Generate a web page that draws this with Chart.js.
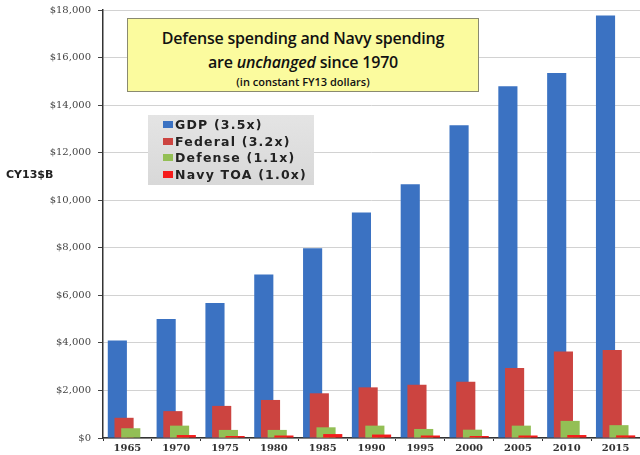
<!DOCTYPE html>
<html>
<head>
<meta charset="utf-8">
<script src="https://cdn.jsdelivr.net/npm/chart.js@4/dist/chart.umd.min.js"></script>
<style>
  html, body { margin: 0; padding: 0; background: #ffffff; }
  #wrap { position: relative; width: 640px; height: 455px; overflow: hidden; }
  #c { position: absolute; left: 0; top: 0; }
  #titleBox {
    position: absolute; left: 127px; top: 18px; width: 352px; height: 74px;
    background: #fbfb9e; border: 1px solid #8a8a70; box-sizing: border-box;
    font-family: "Open Sans", "Liberation Sans", sans-serif; text-align: center; color: #111;
  }
  #titleBox .l1 { position: absolute; left: 0; right: 0; top: 8px; font-size: 16px; font-weight: 600; letter-spacing: -0.2px; }
  #titleBox .l2 { position: absolute; left: 0; right: 0; top: 32px; font-size: 16px; font-weight: 600; letter-spacing: -0.2px; }
  #titleBox .l3 { position: absolute; left: 0; right: 0; top: 55px; font-size: 11px; font-weight: 600; }
  #legendBox {
    position: absolute; left: 148px; top: 115px; width: 166px; height: 70px;
    background: linear-gradient(#e4e4e4, #d8d8d8);
    font-family: "DejaVu Sans", Verdana, sans-serif; font-weight: bold; font-size: 12.5px; color: #222;
    letter-spacing: 1.2px;
  }
  #legendBox .row { position: absolute; left: 15px; height: 14px; line-height: 14px; white-space: nowrap; }
  #legendBox .sw { display: inline-block; width: 10px; height: 7px; margin-right: 2px; vertical-align: 1px; }
  #yTitle {
    position: absolute; left: 6px; top: 168px; font-family: "DejaVu Sans", Verdana, sans-serif;
    font-weight: bold; font-size: 11px; color: #222;
  }
</style>
</head>
<body>
<div id="wrap">
  <canvas id="c" width="640" height="455"></canvas>
  <div id="yTitle">CY13$B</div>
  <div id="titleBox">
    <div class="l1">Defense spending and Navy spending</div>
    <div class="l2">are <i>unchanged</i> since 1970</div>
    <div class="l3">(in constant FY13 dollars)</div>
  </div>
  <div id="legendBox"></div>
</div>
<script>
// ---- data ----
const years = ["1965","1970","1975","1980","1985","1990","1995","2000","2005","2010","2015"];
const gdp      = [4100, 5000, 5680, 6880, 7980, 9480, 10670, 13150, 14790, 15350, 17770];
const federal  = [850, 1130, 1350, 1600, 1880, 2130, 2240, 2370, 2940, 3640, 3700];
const defense  = [410, 520, 340, 340, 450, 520, 380, 350, 520, 720, 540];
const navyToa  = [null, 125, 85, 105, 165, 145, 105, 85, 105, 125, 110];
const seriesNames = ["GDP (3.5x)", "Federal (3.2x)", "Defense (1.1x)", "Navy TOA (1.0x)"];
const yTicks = [0, 2000, 4000, 6000, 8000, 10000, 12000, 14000, 16000, 18000];

const colors = ["#3b72c2", "#cc4440", "#93bf55", "#f51c1c"];

// HTML legend
const lg = document.getElementById('legendBox');
seriesNames.forEach((n, i) => {
  const r = document.createElement('div');
  r.className = 'row';
  r.style.top = (3 + i * 16.5) + 'px';
  r.innerHTML = '<span class="sw" style="background:' + colors[i] + '"></span>' + n;
  lg.appendChild(r);
});

// Draw datasets in index order so later series sit on top
const drawOrder = {
  id: 'drawOrder',
  beforeDatasetsDraw(chart) {
    const a = chart.chartArea, ctx = chart.ctx;
    ctx.save();
    ctx.beginPath();
    ctx.rect(a.left, a.top, a.right - a.left, a.bottom - a.top);
    ctx.clip();
    for (let i = 0; i < chart.data.datasets.length; i++) {
      const meta = chart.getDatasetMeta(i);
      if (chart.isDatasetVisible(i)) meta.controller.draw();
    }
    ctx.restore();
    return false;
  }
};

const mk = (label, data, color) => ({
  label, data, backgroundColor: color, borderWidth: 0,
  categoryPercentage: 0.55, barPercentage: 2.85
});

new Chart(document.getElementById('c'), {
  type: 'bar',
  data: {
    labels: years,
    datasets: [
      mk(seriesNames[0], gdp, colors[0]),
      mk(seriesNames[1], federal, colors[1]),
      mk(seriesNames[2], defense, colors[2]),
      mk(seriesNames[3], navyToa, colors[3])
    ]
  },
  options: {
    responsive: false,
    animation: false,
    layout: { padding: { left: 0, right: 0, top: 10, bottom: 0 } },
    plugins: { legend: { display: false }, tooltip: { enabled: false } },
    scales: {
      x: {
        grid: { drawOnChartArea: false, drawTicks: true, tickLength: 3, tickColor: '#333', offset: true },
        border: { color: '#333', width: 1.5 },
        ticks: {
          padding: 1, color: '#333',
          font: { family: "'DejaVu Serif', 'Liberation Serif', serif", size: 10, weight: 'bold' }
        },
        afterFit(s) { s.height = 17; s.paddingLeft = 0; s.paddingRight = 0; }
      },
      y: {
        min: 0, max: 18000,
        afterBuildTicks(s) { s.ticks = yTicks.map(v => ({ value: v })); },
        grid: { color: '#d2d2d2', lineWidth: 1, tickLength: 5, tickColor: '#444' },
        border: { color: '#333', width: 1.5 },
        ticks: {
          padding: 7, color: '#444',
          font: { family: "'DejaVu Serif', 'Liberation Serif', serif", size: 10 },
          callback: v => '$' + Number(v).toLocaleString('en-US')
        },
        afterFit(s) { s.width = 103; s.paddingTop = 0; s.paddingBottom = 0; }
      }
    }
  },
  plugins: [drawOrder]
});
</script>
</body>
</html>
